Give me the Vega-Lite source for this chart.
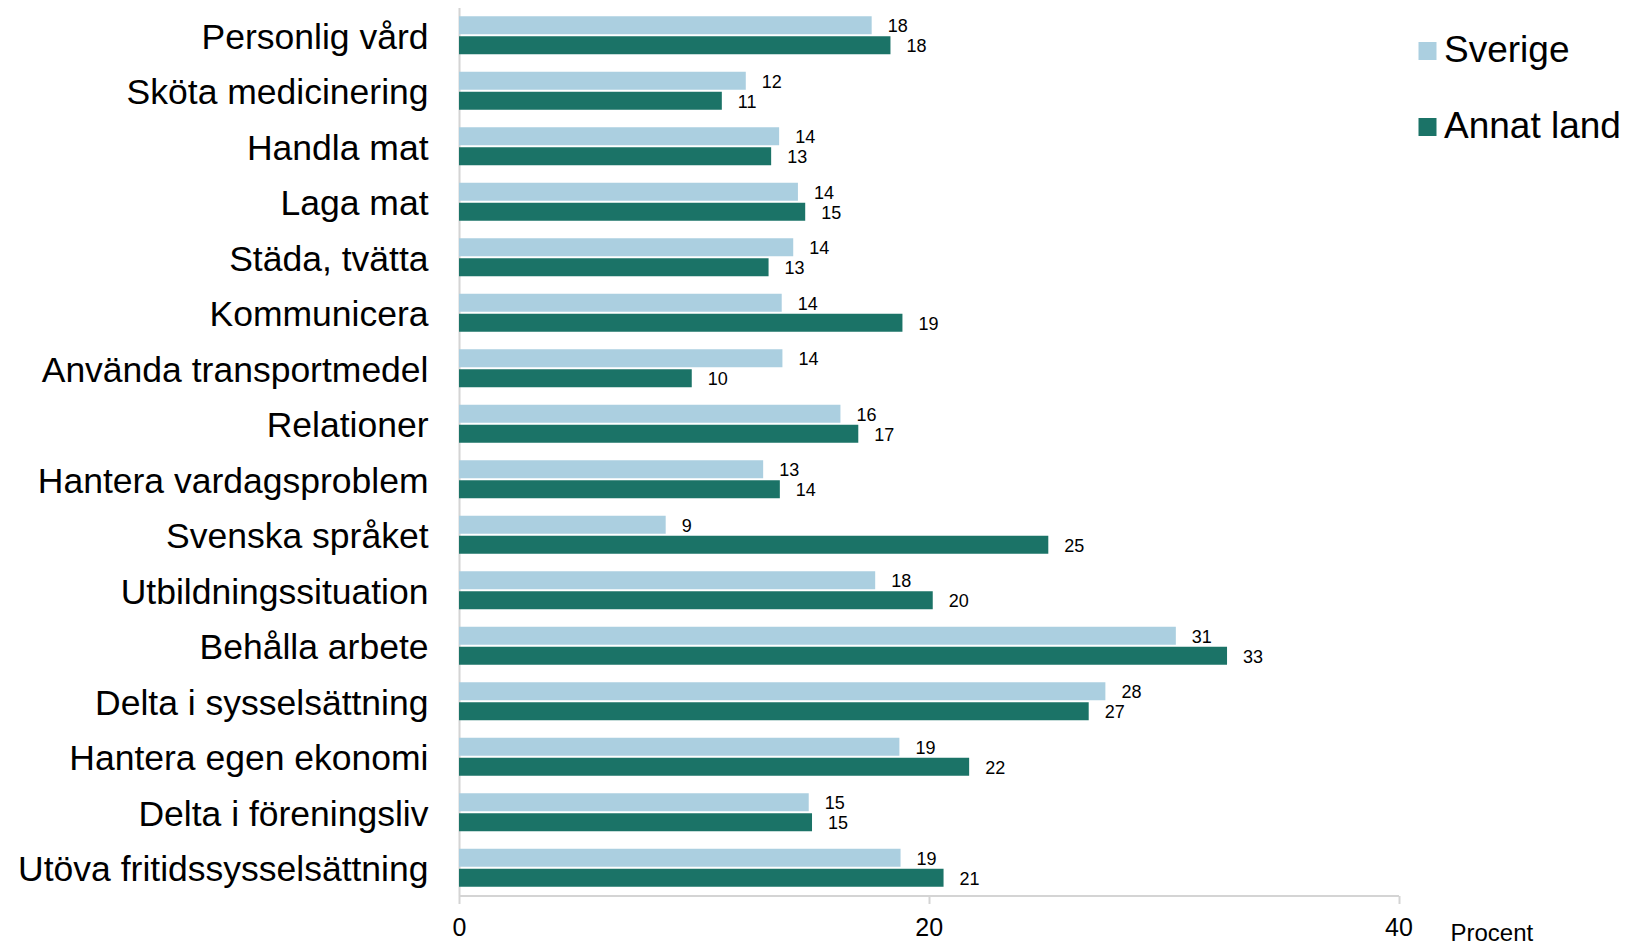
{
  "$schema": "https://vega.github.io/schema/vega-lite/v6.json",
  "width": 939.5,
  "height": 888,
  "autosize": {"type": "none"},
  "padding": {"left": 459, "top": 7.5, "right": 231.5, "bottom": 45.5},
  "background": "white",
  "config": {"view": {"stroke": null}, "font": "Liberation Sans"},
  "data": {
    "values": [
      {"aktivitet": "Personlig vård", "grupp": "Sverige", "procent": 17.57},
      {"aktivitet": "Personlig vård", "grupp": "Annat land", "procent": 18.37},
      {"aktivitet": "Sköta medicinering", "grupp": "Sverige", "procent": 12.21},
      {"aktivitet": "Sköta medicinering", "grupp": "Annat land", "procent": 11.19},
      {"aktivitet": "Handla mat", "grupp": "Sverige", "procent": 13.63},
      {"aktivitet": "Handla mat", "grupp": "Annat land", "procent": 13.29},
      {"aktivitet": "Laga mat", "grupp": "Sverige", "procent": 14.43},
      {"aktivitet": "Laga mat", "grupp": "Annat land", "procent": 14.74},
      {"aktivitet": "Städa, tvätta", "grupp": "Sverige", "procent": 14.23},
      {"aktivitet": "Städa, tvätta", "grupp": "Annat land", "procent": 13.18},
      {"aktivitet": "Kommunicera", "grupp": "Sverige", "procent": 13.74},
      {"aktivitet": "Kommunicera", "grupp": "Annat land", "procent": 18.88},
      {"aktivitet": "Använda transportmedel", "grupp": "Sverige", "procent": 13.77},
      {"aktivitet": "Använda transportmedel", "grupp": "Annat land", "procent": 9.91},
      {"aktivitet": "Relationer", "grupp": "Sverige", "procent": 16.24},
      {"aktivitet": "Relationer", "grupp": "Annat land", "procent": 17.0},
      {"aktivitet": "Hantera vardagsproblem", "grupp": "Sverige", "procent": 12.95},
      {"aktivitet": "Hantera vardagsproblem", "grupp": "Annat land", "procent": 13.66},
      {"aktivitet": "Svenska språket", "grupp": "Sverige", "procent": 8.8},
      {"aktivitet": "Svenska språket", "grupp": "Annat land", "procent": 25.09},
      {"aktivitet": "Utbildningssituation", "grupp": "Sverige", "procent": 17.72},
      {"aktivitet": "Utbildningssituation", "grupp": "Annat land", "procent": 20.17},
      {"aktivitet": "Behålla arbete", "grupp": "Sverige", "procent": 30.52},
      {"aktivitet": "Behålla arbete", "grupp": "Annat land", "procent": 32.7},
      {"aktivitet": "Delta i sysselsättning", "grupp": "Sverige", "procent": 27.52},
      {"aktivitet": "Delta i sysselsättning", "grupp": "Annat land", "procent": 26.81},
      {"aktivitet": "Hantera egen ekonomi", "grupp": "Sverige", "procent": 18.75},
      {"aktivitet": "Hantera egen ekonomi", "grupp": "Annat land", "procent": 21.72},
      {"aktivitet": "Delta i föreningsliv", "grupp": "Sverige", "procent": 14.89},
      {"aktivitet": "Delta i föreningsliv", "grupp": "Annat land", "procent": 15.03},
      {"aktivitet": "Utöva fritidssysselsättning", "grupp": "Sverige", "procent": 18.8},
      {"aktivitet": "Utöva fritidssysselsättning", "grupp": "Annat land", "procent": 20.63}
    ]
  },
  "encoding": {
    "y": {
      "field": "aktivitet",
      "type": "nominal",
      "sort": null,
      "scale": {"paddingInner": 0.315, "paddingOuter": 0.1575},
      "axis": {
        "title": null,
        "domainColor": "#d4d4d4",
        "domainWidth": 2,
        "ticks": false,
        "labelFontSize": 35.5,
        "labelColor": "black",
        "labelPadding": 31,
        "labelOffset": 2.5,
        "labelLimit": 0
      }
    },
    "yOffset": {
      "field": "grupp",
      "type": "nominal",
      "sort": ["Sverige", "Annat land"],
      "scale": {"paddingInner": 0.105, "paddingOuter": 0}
    },
    "x": {
      "field": "procent",
      "type": "quantitative",
      "scale": {"domain": [0, 40]},
      "axis": {
        "orient": "bottom",
        "values": [0, 20, 40],
        "grid": false,
        "labelFlush": false,
        "domainColor": "#d4d4d4",
        "domainWidth": 2,
        "tickColor": "#d4d4d4",
        "tickWidth": 2,
        "tickSize": 8,
        "labelFontSize": 25,
        "labelColor": "black",
        "labelPadding": 12,
        "title": "Procent",
        "titleFontSize": 24,
        "titleFontWeight": "normal",
        "titleColor": "black",
        "titleAlign": "left",
        "titleBaseline": "alphabetic",
        "titleAnchor": null,
        "titleX": 991,
        "titleY": 45
      }
    }
  },
  "layer": [
    {
      "mark": {"type": "bar"},
      "encoding": {
        "color": {
          "field": "grupp",
          "type": "nominal",
          "scale": {"domain": ["Sverige", "Annat land"], "range": ["#abcfe0", "#1b7367"]},
          "legend": {
            "title": null,
            "orient": "none",
            "legendX": 950,
            "legendY": 25,
            "symbolType": "square",
            "symbolSize": 324,
            "symbolStrokeWidth": 0,
            "labelFontSize": 37,
            "labelColor": "black",
            "labelOffset": -2,
            "rowPadding": 38,
            "labelLimit": 0
          }
        }
      }
    },
    {
      "mark": {"type": "text", "align": "left", "baseline": "middle", "dx": 16, "dy": 2, "fontSize": 18, "color": "black"},
      "encoding": {"text": {"field": "procent", "type": "quantitative", "format": ".0f"}}
    }
  ]
}
